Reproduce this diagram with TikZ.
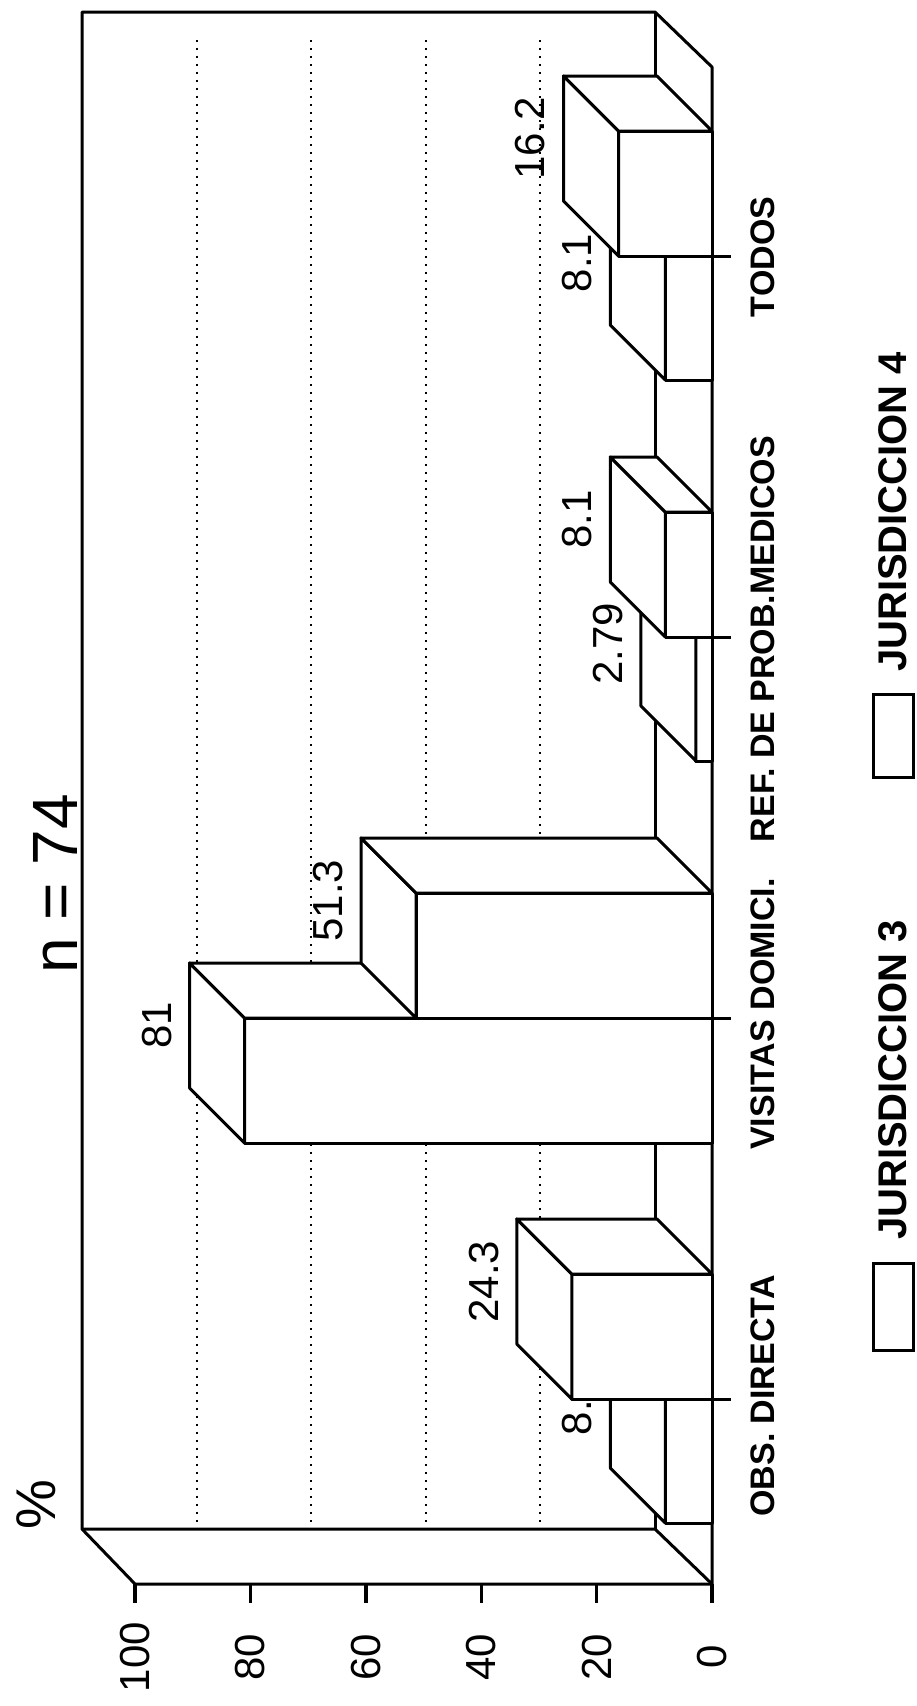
\documentclass[tikz,border=0pt]{standalone}
\usepackage{fontspec}
\setmainfont{Liberation Sans}
\newcommand\jbar[5]{%
  \filldraw[face] (#2,#3) rectangle (712,#4);
  \filldraw[face] (#2,#3) -- (#2,#4) -- ({#2-55},{#4-55}) -- ({#2-55},{#3-55}) -- cycle;
  \filldraw[face] (#2,#3) -- (712,#3) -- (657,{#3-55}) -- ({#2-55},{#3-55}) -- cycle;
  \node[vallabel] (#1) at ({#2-88},{(#3+#4)/2-55}) {#5};
}
\begin{document}
\begin{tikzpicture}[x=1pt,y=-1pt,
  edge/.style={line width=3pt, line join=round},
  face/.style={edge, fill=white},
  gridline/.style={line width=1.8pt, dash pattern=on 1.5pt off 6.5pt},
  vallabel/.style={rotate=90, inner sep=0pt, font=\fontsize{42}{46}\selectfont},
  axlabel/.style={rotate=90, inner sep=0pt, font=\fontsize{42}{46}\selectfont},
  catlabel/.style={rotate=90, inner sep=0pt, font=\bfseries\fontsize{34}{38}\selectfont},
  leglabel/.style={rotate=90, inner sep=0pt, anchor=west, font=\bfseries\fontsize{40}{44}\selectfont},
  legbox/.style={line width=3pt, fill=white}]
\useasboundingbox (0,0) rectangle (917,1706);

% gridlines on back wall
\foreach \gx in {197,311,426,540} \draw[gridline] (\gx,40) -- (\gx,1525);

% walls
\draw[edge] (82,1529) -- (82,12) -- (655,12) -- (712,67) -- (712,1584) -- (135,1584) -- cycle;
\draw[edge] (82,1529) -- (655,1529) -- (712,1584);
\draw[edge] (655,12) -- (655,1529);

% value axis ticks and labels
\foreach \v/\tx in {0/712,20/596.6,40/481.2,60/365.8,80/250.4,100/135} {
  \draw[line width=3.4pt] (\tx,1584) -- (\tx,1603);
  \node[axlabel] (ax\v) at (\tx,1657) {\v};
}

% bars, from bottom to top
\jbar{l1}{665.3}{1399}{1523}{8.1}
\jbar{l2}{571.8}{1274}{1399}{24.3}
\jbar{l3}{244.6}{1018}{1143}{81}
\jbar{l4}{416.0}{893}{1018}{51.3}
\jbar{l5}{695.9}{637}{761}{2.79}
\jbar{l6}{665.3}{512}{637}{8.1}
\jbar{l7}{665.3}{256}{380}{8.1}
\jbar{l8}{618.5}{131}{256}{16.2}

% category ticks and labels
\foreach \cy in {1399,1018,637,256} \draw[edge] (712,\cy) -- (731,\cy);
\node[catlabel] (c1) at (763,1396) {OBS. DIRECTA};
\node[catlabel] (c2) at (763,1014) {VISITAS DOMICI.};
\node[catlabel] (c3) at (763,639) {REF. DE PROB.MEDICOS};
\node[catlabel] (c4) at (763,257) {TODOS};

% title and unit
\node[rotate=90, inner sep=0pt, font=\fontsize{64}{70}\selectfont] (title) at (55,884) {n = 74};
\node[rotate=90, inner sep=0pt, font=\fontsize{56}{60}\selectfont] (pct) at (36,1505) {\%};

% legend
\draw[legbox] (873,1263) rectangle (913,1350);
\node[leglabel] (j3) at (893,1240) {JURISDICCION 3};
\draw[legbox] (873,694) rectangle (913,777);
\node[leglabel] (j4) at (893,672) {JURISDICCION 4};
\end{tikzpicture}
\end{document}
